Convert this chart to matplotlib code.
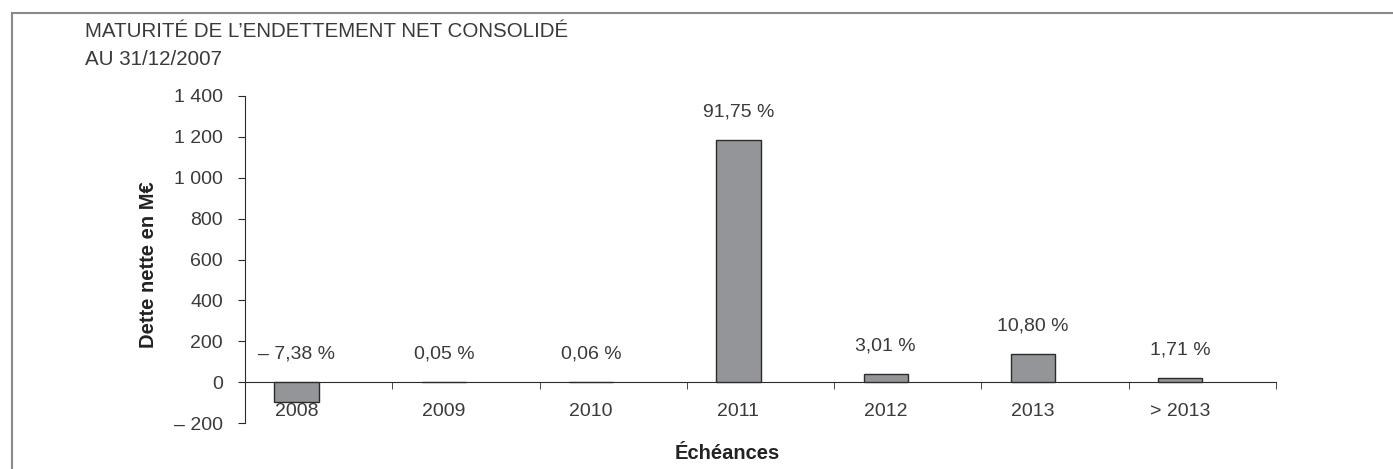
import matplotlib.pyplot as plt
from matplotlib.lines import Line2D
import numpy as np

# data
categories = ["2008", "2009", "2010", "2011", "2012", "2013", "> 2013"]
values = [-95, 0.6, 0.8, 1186, 39, 140, 20]
pct_labels = ["– 7,38 %", "0,05 %", "0,06 %", "91,75 %", "3,01 %", "10,80 %", "1,71 %"]
y_ticks = [-200, 0, 200, 400, 600, 800, 1000, 1200, 1400]

TEXT = "#3a3a3a"
plt.rcParams["font.family"] = ["Liberation Sans", "DejaVu Sans"]
plt.rcParams["font.size"] = 14


def fmt_tick(v):
    s = f"{abs(v):,}".replace(",", " ")
    return f"– {s}" if v < 0 else s


fig = plt.figure(figsize=(13.93, 4.69), dpi=100)
ax = fig.add_axes([245 / 1393, 46 / 469, (1276 - 245) / 1393, (423 - 96) / 469])

x = np.arange(len(categories)) - 0.15
ax.bar(x, values, width=0.3, color="#939598", edgecolor="#2b2b2b", linewidth=1.0, zorder=3)

for xi, v, lab in zip(x, values, pct_labels):
    ax.annotate(lab, (xi, max(v, 0)), xytext=(0, 20), textcoords="offset points",
                ha="center", va="center", color=TEXT)

ax.set_xlim(-0.5, len(categories) - 0.5)
ax.set_ylim(-200, 1400)

ax.spines["top"].set_visible(False)
ax.spines["right"].set_visible(False)
ax.spines["bottom"].set_position(("data", 0))
ax.spines["bottom"].set_color("#2b2b2b")
ax.spines["left"].set_color("#2b2b2b")

ax.set_xticks(x)
ax.set_xticklabels(categories, color=TEXT)
ax.tick_params(axis="x", which="major", length=0, pad=15)
ax.set_xticks(np.arange(len(categories)) + 0.5, minor=True)
ax.tick_params(axis="x", which="minor", length=5, direction="out", color="#2b2b2b")

ax.set_yticks(y_ticks)
ax.set_yticklabels([fmt_tick(v) for v in y_ticks], color=TEXT)
ax.tick_params(axis="y", length=5, direction="out", pad=11, color="#2b2b2b")

fig.text(148 / 1393, 1 - 265 / 469, "Dette nette en M€", rotation=90, ha="center", va="center",
         fontsize=14.5, fontweight="bold", color="#222222")
fig.text(727 / 1393, 1 - 453 / 469, "Échéances", ha="center", va="center",
         fontsize=14.5, fontweight="bold", color="#222222")

fig.text(85 / 1393, 1 - 37 / 469, "MATURITÉ DE L’ENDETTEMENT NET CONSOLIDÉ", ha="left",
         va="baseline", fontsize=14.8, color=TEXT)
fig.text(85 / 1393, 1 - 65 / 469, "AU 31/12/2007", ha="left", va="baseline",
         fontsize=14.8, color=TEXT)

# frame line at top and left
fig.add_artist(Line2D([11.5 / 1393, 1], [1 - 13.5 / 469, 1 - 13.5 / 469], color="#8a8a8a", lw=1.5))
fig.add_artist(Line2D([11.5 / 1393, 11.5 / 1393], [0, 1 - 13.5 / 469], color="#8a8a8a", lw=1.5))

fig.savefig("out.png", dpi=100)
